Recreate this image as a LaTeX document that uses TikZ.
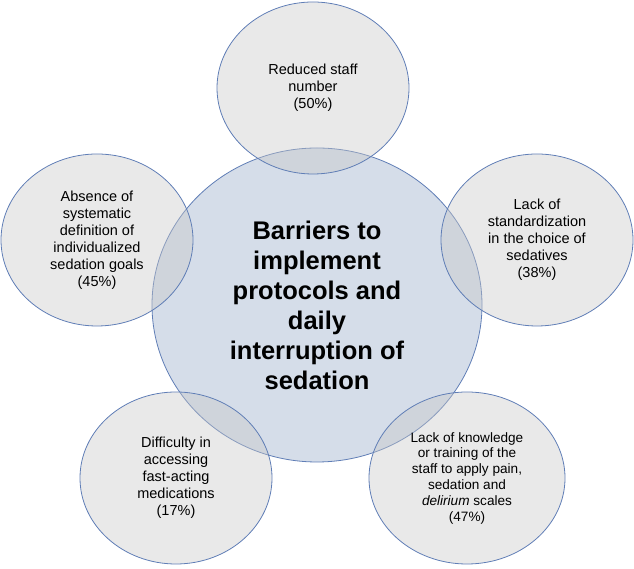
\documentclass[tikz,border=0pt]{standalone}
\usepackage{fontspec}
\setmainfont{Liberation Sans}
\usepackage{tikz}
\usetikzlibrary{shapes.geometric}
\definecolor{EdgeBlue}{RGB}{96, 126, 182}
\definecolor{HubBlue}{RGB}{213, 221, 233}
\definecolor{PetalGray}{RGB}{200, 200, 200}

\begin{document}
\begin{tikzpicture}[x=1pt, y=1pt,
    hub/.style={ellipse, draw=EdgeBlue, line width=0.8pt, fill=HubBlue,
      minimum width=330pt, minimum height=314pt, inner sep=0pt, align=center,
      font=\bfseries\fontsize{25.5}{30}\selectfont},
    barrier/.style={ellipse, draw=EdgeBlue, line width=0.8pt, fill=PetalGray,
      fill opacity=0.4, text opacity=1, minimum width=192pt, minimum height=172pt,
      inner sep=0pt, align=center, font=\fontsize{14.5}{17}\selectfont}]
  \useasboundingbox (0,0) rectangle (634,569);

  % Central topic
  \node[hub] (hub) at (317,264) {Barriers to\\implement\\protocols and\\daily\\interruption of\\sedation};

  % Barriers around it
  \node[barrier] (staff) at (313,481) {Reduced staff\\number\\(50\%)};
  \node[barrier] (sedatives) at (537,329) {Lack of\\standardization\\in the choice of\\sedatives\\(38\%)};
  \node[barrier] (goals) at (97,329) {Absence of\\systematic\\definition of\\individualized\\sedation goals\\(45\%)};
  \node[barrier] (drugs) at (176,91) {Difficulty in\\accessing\\fast-acting\\medications\\(17\%)};
  \node[barrier, minimum width=196pt, font=\fontsize{13.6}{15.8}\selectfont] (training) at (467,91)
    {Lack of knowledge\\or training of the\\staff to apply pain,\\sedation and\\\textit{delirium} scales\\(47\%)};
\end{tikzpicture}
\end{document}
